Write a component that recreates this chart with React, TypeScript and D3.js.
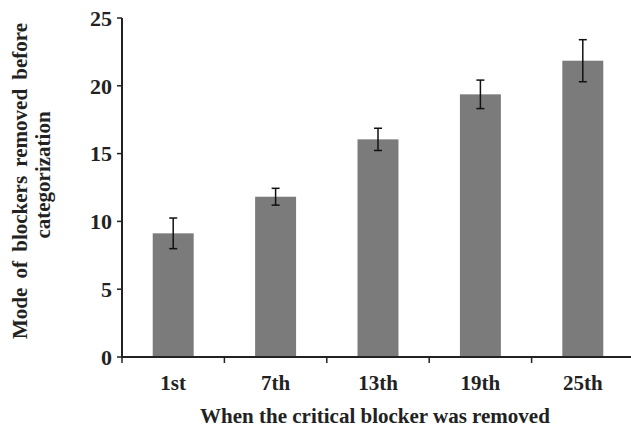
import React from "react";
import * as d3 from "d3";

const categories = ["1st", "7th", "13th", "19th", "25th"];
const values = [9.12, 11.82, 16.05, 19.37, 21.85];
const errors = [1.13, 0.62, 0.82, 1.05, 1.55];
const yTicks = [0, 5, 10, 15, 20, 25];

const W = 631;
const H = 428;
const FONT = "'Liberation Serif', 'Times New Roman', serif";

export default function App() {
  const x = d3.scaleBand<string>().domain(categories).range([122, 634]).paddingInner(0.6).paddingOuter(0.3);
  const y = d3.scaleLinear().domain([0, 25]).range([357, 18]);
  const step = x.step();
  const boundaries = categories.map((_, i) => 122 + i * step).concat([634]);
  const cap = 4;

  return (
    <svg width={W} height={H} style={{ position: "absolute", left: 0, top: 0, background: "#fff" }} fontFamily={FONT}>
      {categories.map((c, i) => (
        <rect key={c} x={x(c)} y={y(values[i])} width={x.bandwidth()} height={y(0) - y(values[i])} fill="#7b7b7b" />
      ))}
      {categories.map((c, i) => {
        const cx = (x(c) as number) + x.bandwidth() / 2;
        const top = y(values[i] + errors[i]);
        const bot = y(values[i] - errors[i]);
        return (
          <g key={"e" + c} stroke="#111" strokeWidth={1.5}>
            <line x1={cx} x2={cx} y1={top} y2={bot} />
            <line x1={cx - cap} x2={cx + cap} y1={top} y2={top} />
            <line x1={cx - cap} x2={cx + cap} y1={bot} y2={bot} />
          </g>
        );
      })}
      <line x1={122} x2={122} y1={y(25)} y2={y(0)} stroke="#222" strokeWidth={2} />
      {yTicks.map((t) => (
        <g key={"y" + t}>
          <line x1={117} x2={122} y1={y(t)} y2={y(t)} stroke="#222" strokeWidth={1.5} />
          <text x={112} y={y(t)} dy="0.35em" textAnchor="end" fontSize={22} fontWeight="bold" fill="#222">
            {t}
          </text>
        </g>
      ))}
      <line x1={121} x2={634} y1={y(0)} y2={y(0)} stroke="#222" strokeWidth={2} />
      {boundaries.map((b, i) => (
        <line key={"xt" + i} x1={b} x2={b} y1={y(0)} y2={y(0) + 6} stroke="#222" strokeWidth={1.5} />
      ))}
      {categories.map((c) => (
        <text key={"xl" + c} x={(x(c) as number) + x.bandwidth() / 2} y={390} textAnchor="middle" fontSize={21} fontWeight="bold" fill="#222">
          {c}
        </text>
      ))}
      <text x={375} y={423} textAnchor="middle" fontSize={21} fontWeight="bold" fill="#222">
        When the critical blocker was removed
      </text>
      <text transform="translate(27,181) rotate(-90)" textAnchor="middle" fontSize={21} fontWeight="bold" fill="#222" wordSpacing={4}>
        Mode of blockers removed before
      </text>
      <text transform="translate(50,175) rotate(-90)" textAnchor="middle" fontSize={21} fontWeight="bold" fill="#222">
        categorization
      </text>
    </svg>
  );
}
